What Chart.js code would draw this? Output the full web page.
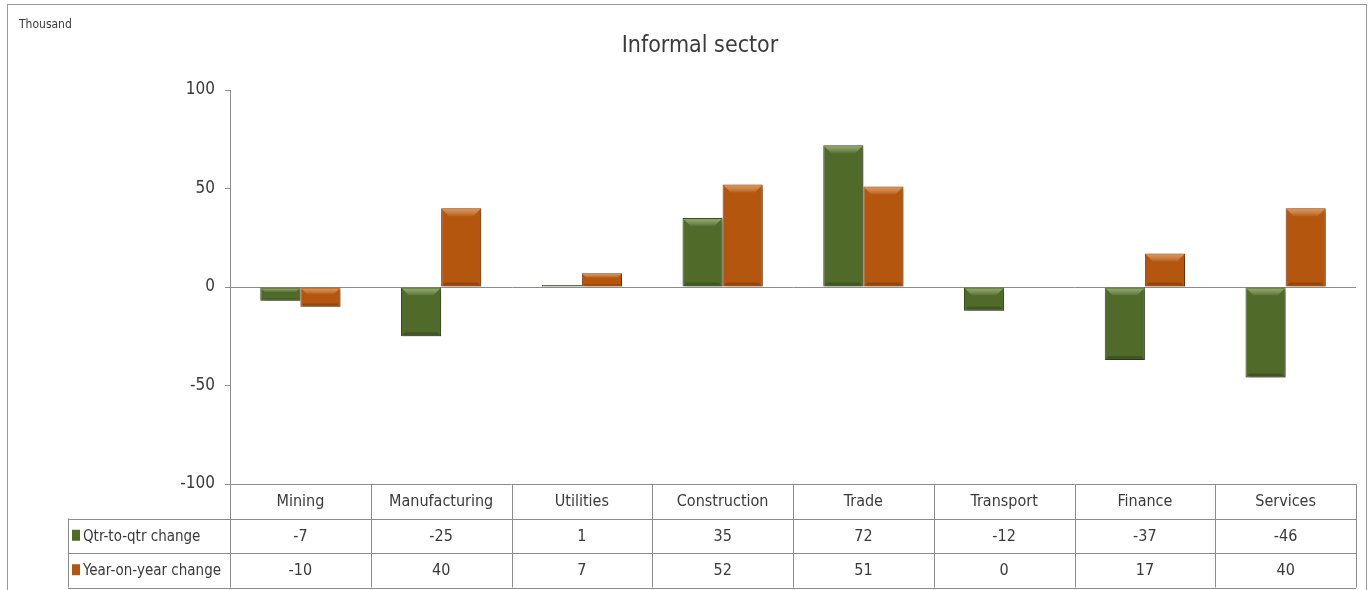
<!DOCTYPE html>
<html>
<head>
<meta charset="utf-8">
<script src="https://cdn.jsdelivr.net/npm/chart.js@4/dist/chart.umd.min.js"></script>
<style>
  body { margin: 0; background: #fff; }
  #wrap { position: relative; width: 1370px; height: 590px; }
</style>
</head>
<body>
<div id="wrap"><canvas id="informalChart" width="1370" height="590"></canvas></div>
<script>
const sectors = ['Mining', 'Manufacturing', 'Utilities', 'Construction', 'Trade', 'Transport', 'Finance', 'Services'];
const qtrChange = [-7, -25, 1, 35, 72, -12, -37, -46];
const yearChange = [-10, 40, 7, 52, 51, 0, 17, 40];
const seriesNames = ['Qtr-to-qtr change', 'Year-on-year change'];
const yTicks = [-100, -50, 0, 50, 100];

const FONT = "'Liberation Sans Narrow', 'DejaVu Sans Condensed', sans-serif";
const TEXT = '#3a3a3a';
const LINE = '#8c8c8c';
const greenFill = '#4f6a29';
const orangeFill = '#b4560e';

// bevel look: light strip on top, darker on bottom, soft shadow
const bevelPlugin = {
  id: 'bevel',
  beforeDatasetsDraw(chart) {
    const ctx = chart.ctx;
    ctx.save();
    ctx.shadowColor = 'rgba(0,0,0,0.35)';
    ctx.shadowBlur = 4;
    ctx.shadowOffsetX = 2;
    ctx.shadowOffsetY = 2;
  },
  afterDatasetsDraw(chart) {
    const ctx = chart.ctx;
    ctx.restore();
    const lights = ['rgba(190,215,140,0.6)', 'rgba(255,190,120,0.6)'];
    chart.data.datasets.forEach((ds, di) => {
      chart.getDatasetMeta(di).data.forEach(bar => {
        const top = Math.min(bar.y, bar.base);
        const bottom = Math.max(bar.y, bar.base);
        const h = bottom - top;
        if (h < 3) return;
        const left = bar.x - bar.width / 2;
        const right = bar.x + bar.width / 2;
        const b = Math.min(8, h / 3);
        const g = ctx.createLinearGradient(0, top, 0, top + b);
        g.addColorStop(0, lights[di]);
        g.addColorStop(1, 'rgba(255,255,255,0.05)');
        ctx.fillStyle = g;
        ctx.beginPath();
        ctx.moveTo(left + 1, top + 1);
        ctx.lineTo(right - 1, top + 1);
        ctx.lineTo(right - b, top + b);
        ctx.lineTo(left + b, top + b);
        ctx.closePath();
        ctx.fill();
        ctx.fillStyle = 'rgba(0,0,0,0.18)';
        ctx.beginPath();
        ctx.moveTo(left + 1, bottom - 1);
        ctx.lineTo(right - 1, bottom - 1);
        ctx.lineTo(right - b / 2, bottom - b / 2);
        ctx.lineTo(left + b / 2, bottom - b / 2);
        ctx.closePath();
        ctx.fill();
      });
    });
  }
};

// frame, headings and the data table under the plot
const tablePlugin = {
  id: 'dataTable',
  afterDraw(chart) {
    const ctx = chart.ctx;
    const area = chart.chartArea;
    const x = chart.scales.x;
    const half = (x.getPixelForValue(1) - x.getPixelForValue(0)) / 2;
    const rowTop = area.bottom;
    const rowH = 34.5;
    const legendLeft = 68;

    ctx.save();
    ctx.strokeStyle = '#9a9a9a';
    ctx.lineWidth = 1;
    ctx.strokeRect(7.5, 4.5, 1359, 620);

    ctx.fillStyle = TEXT;
    ctx.font = '12px ' + FONT;
    ctx.textAlign = 'left';
    ctx.textBaseline = 'middle';
    ctx.fillText('Thousand', 19, 25);

    ctx.font = '23px ' + FONT;
    ctx.textAlign = 'center';
    ctx.fillText('Informal sector', 700, 46);

    ctx.strokeStyle = LINE;
    ctx.beginPath();
    for (let r = 1; r <= 3; r++) {
      const yy = Math.round(rowTop + r * rowH) + 0.5;
      ctx.moveTo(legendLeft, yy);
      ctx.lineTo(area.right, yy);
    }
    ctx.moveTo(area.left, rowTop + 0.5);
    ctx.lineTo(area.right, rowTop + 0.5);
    for (let i = 0; i <= sectors.length; i++) {
      const xx = Math.round(x.getPixelForValue(i) - half) + 0.5;
      ctx.moveTo(xx, rowTop);
      ctx.lineTo(xx, rowTop + 3 * rowH);
    }
    ctx.moveTo(legendLeft + 0.5, rowTop + rowH);
    ctx.lineTo(legendLeft + 0.5, rowTop + 3 * rowH);
    ctx.stroke();

    ctx.font = '16px ' + FONT;
    ctx.fillStyle = TEXT;
    ctx.textAlign = 'center';
    sectors.forEach((s, i) => {
      const cx = x.getPixelForValue(i);
      ctx.fillText(s, cx, rowTop + rowH / 2 + 1);
      ctx.fillText(String(qtrChange[i]), cx, rowTop + rowH * 1.5 + 1);
      ctx.fillText(String(yearChange[i]), cx, rowTop + rowH * 2.5 + 1);
    });

    ctx.font = '15px ' + FONT;
    ctx.textAlign = 'left';
    chart.data.datasets.forEach((ds, di) => {
      const cy = rowTop + rowH * (1.5 + di);
      ctx.fillStyle = ds.backgroundColor;
      ctx.fillRect(legendLeft + 4, cy - 6, 8, 11);
      ctx.fillStyle = TEXT;
      ctx.fillText(ds.label, legendLeft + 15, cy + 1);
    });
    ctx.restore();
  }
};

new Chart(document.getElementById('informalChart'), {
  type: 'bar',
  data: {
    labels: sectors,
    datasets: [
      { label: seriesNames[0], data: qtrChange, backgroundColor: greenFill, borderColor: '#3a4f1c', borderWidth: 1 },
      { label: seriesNames[1], data: yearChange, backgroundColor: orangeFill, borderColor: '#87400a', borderWidth: 1 }
    ]
  },
  options: {
    responsive: false,
    animation: false,
    layout: { padding: { top: 90, right: 14, bottom: 106, left: 0 } },
    datasets: { bar: { categoryPercentage: 0.57, barPercentage: 1.0 } },
    plugins: {
      legend: { display: false },
      title: { display: false },
      tooltip: { enabled: false }
    },
    scales: {
      x: { display: false },
      y: {
        min: yTicks[0],
        max: yTicks[yTicks.length - 1],
        afterFit: s => { s.width = 230; },
        afterBuildTicks: s => { s.ticks = yTicks.map(v => ({ value: v })); },
        ticks: { color: TEXT, font: { family: FONT, size: 17 }, padding: 10 },
        grid: {
          drawOnChartArea: true,
          tickLength: 5,
          tickColor: LINE,
          color: c => (c.tick && c.tick.value === 0 ? LINE : 'transparent')
        },
        border: { display: true, color: LINE }
      }
    }
  },
  plugins: [bevelPlugin, tablePlugin]
});
</script>
</body>
</html>
